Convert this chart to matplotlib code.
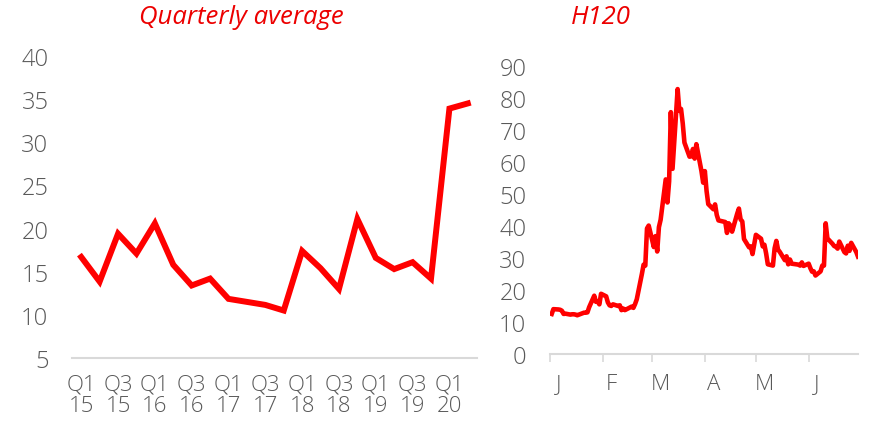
import matplotlib
matplotlib.use("Agg")
import matplotlib.pyplot as plt
import pandas as pd

# quarterly average, Q1 15 .. Q2 20
quarters = ["Q1\n15", "Q2\n15", "Q3\n15", "Q4\n15", "Q1\n16", "Q2\n16", "Q3\n16", "Q4\n16",
            "Q1\n17", "Q2\n17", "Q3\n17", "Q4\n17", "Q1\n18", "Q2\n18", "Q3\n18", "Q4\n18",
            "Q1\n19", "Q2\n19", "Q3\n19", "Q4\n19", "Q1\n20", "Q2\n20"]
quarterly_avg = [16.7, 13.85, 19.4, 17.1, 20.6, 15.8, 13.4, 14.2, 11.85, 11.5, 11.15, 10.5,
                 17.4, 15.4, 13.0, 21.1, 16.6, 15.3, 16.1, 14.2, 33.9, 34.5]

# daily closes, H1 2020
days = ["2020-01-02", "2020-01-03", "2020-01-06", "2020-01-07", "2020-01-08", "2020-01-09",
        "2020-01-10", "2020-01-13", "2020-01-14", "2020-01-15", "2020-01-16", "2020-01-17",
        "2020-01-21", "2020-01-22", "2020-01-23", "2020-01-24", "2020-01-27", "2020-01-28",
        "2020-01-29", "2020-01-30", "2020-01-31", "2020-02-03", "2020-02-04", "2020-02-05",
        "2020-02-06", "2020-02-07", "2020-02-10", "2020-02-11", "2020-02-12", "2020-02-13",
        "2020-02-14", "2020-02-18", "2020-02-19", "2020-02-20", "2020-02-21", "2020-02-24",
        "2020-02-25", "2020-02-26", "2020-02-27", "2020-02-28", "2020-03-02", "2020-03-03",
        "2020-03-04", "2020-03-05", "2020-03-06", "2020-03-09", "2020-03-10", "2020-03-11",
        "2020-03-12", "2020-03-13", "2020-03-16", "2020-03-17", "2020-03-18", "2020-03-19",
        "2020-03-20", "2020-03-23", "2020-03-24", "2020-03-25", "2020-03-26", "2020-03-27",
        "2020-03-30", "2020-03-31", "2020-04-01", "2020-04-02", "2020-04-03", "2020-04-06",
        "2020-04-07", "2020-04-08", "2020-04-09", "2020-04-13", "2020-04-14", "2020-04-15",
        "2020-04-16", "2020-04-17", "2020-04-20", "2020-04-21", "2020-04-22", "2020-04-23",
        "2020-04-24", "2020-04-27", "2020-04-28", "2020-04-29", "2020-04-30", "2020-05-01",
        "2020-05-04", "2020-05-05", "2020-05-06", "2020-05-07", "2020-05-08", "2020-05-11",
        "2020-05-12", "2020-05-13", "2020-05-14", "2020-05-15", "2020-05-18", "2020-05-19",
        "2020-05-20", "2020-05-21", "2020-05-22", "2020-05-26", "2020-05-27", "2020-05-28",
        "2020-05-29", "2020-06-01", "2020-06-02", "2020-06-03", "2020-06-04", "2020-06-05",
        "2020-06-08", "2020-06-09", "2020-06-10", "2020-06-11", "2020-06-12", "2020-06-15",
        "2020-06-16", "2020-06-17", "2020-06-18", "2020-06-19", "2020-06-22", "2020-06-23",
        "2020-06-24", "2020-06-25", "2020-06-26", "2020-06-29", "2020-06-30"]
daily = [12.5, 14.0, 13.9, 13.8, 13.5, 12.5, 12.6, 12.3, 12.4, 12.4, 12.3, 12.1,
         12.9, 12.9, 13.0, 14.6, 18.2, 16.3, 16.4, 15.5, 18.8, 18.0, 16.1, 15.2,
         15.0, 15.5, 15.0, 15.2, 13.7, 14.2, 13.7, 14.8, 14.4, 15.6, 17.1, 25.0,
         27.9, 27.6, 39.2, 40.1, 33.4, 36.8, 32.0, 39.6, 41.9, 54.5, 47.3, 53.9,
         75.5, 57.8, 82.7, 75.9, 76.5, 72.0, 66.0, 61.6, 61.7, 64.0, 61.0, 65.5,
         57.1, 53.5, 57.1, 50.9, 46.8, 45.2, 46.7, 43.4, 41.7, 41.2, 37.8, 40.8,
         40.1, 38.2, 43.8, 45.4, 42.0, 41.4, 35.9, 33.3, 33.6, 31.2, 34.2, 37.2,
         36.0, 33.6, 34.1, 31.4, 28.0, 27.6, 33.0, 35.3, 32.6, 31.9, 29.3, 30.5,
         28.0, 29.5, 28.2, 27.9, 27.6, 28.6, 27.5, 28.2, 26.8, 25.7, 25.8, 24.5,
         25.8, 27.6, 27.6, 40.8, 36.1, 34.4, 33.7, 33.5, 32.9, 35.1, 31.8, 31.4,
         33.8, 32.2, 34.7, 31.8, 30.4]
month_labels = ["J", "F", "M", "A", "M", "J"]

red = "#FF0000"
title_red = "#EC0000"
grey = "#595959"
axis_grey = "#D9D9D9"
plt.rcParams["font.family"] = ["Open Sans", "DejaVu Sans"]
plt.rcParams["font.weight"] = "light"

fig = plt.figure(figsize=(8.74, 4.27), dpi=100)
ax1 = fig.add_axes([0.0824, 0.1593, 0.4634, 0.7073])
ax2 = fig.add_axes([0.6293, 0.1686, 0.3524, 0.6752])

# left: quarterly average
ax1.plot(range(len(quarterly_avg)), quarterly_avg, color=red, lw=4.3, solid_joinstyle="miter")
ax1.set_xlim(-0.5, len(quarterly_avg) - 0.5)
ax1.set_ylim(5, 40)
ax1.set_yticks(range(5, 41, 5))
ax1.set_xticks(range(0, len(quarters), 2))
ax1.set_xticklabels(quarters[::2])

# right: H1 2020 daily
dates = pd.to_datetime(days)
ax2.plot(dates, daily, color=red, lw=3.3)
ax2.set_xlim(pd.Timestamp("2020-01-01"), pd.Timestamp("2020-06-30"))
ax2.set_ylim(0, 90)
ax2.set_yticks(range(0, 91, 10))
month_starts = pd.date_range("2020-01-01", periods=6, freq="MS")
ax2.set_xticks(month_starts)
ax2.set_xticklabels([])
ax2.set_xticks(month_starts + pd.Timedelta(days=5), minor=True)
ax2.set_xticklabels(month_labels, minor=True)
ax2.tick_params(axis="x", which="major", length=6, color=axis_grey, width=1.2)
ax2.tick_params(axis="x", which="minor", length=0, pad=14)

for ax in (ax1, ax2):
    for s in ("top", "right", "left"):
        ax.spines[s].set_visible(False)
    ax.spines["bottom"].set_color(axis_grey)
    ax.spines["bottom"].set_linewidth(1.5)
    ax.tick_params(axis="y", length=0, pad=17, labelsize=17, labelcolor=grey)
    ax.tick_params(axis="x", which="both", labelsize=16, labelcolor=grey)
ax1.tick_params(axis="x", length=0, pad=11)
for lab in ax1.get_xticklabels():
    lab.set_linespacing(1.05)

fig.text(0.276, 0.958, "Quarterly average", color=title_red, fontsize=18.5, style="italic",
         fontweight="normal", ha="center", va="center")
fig.text(0.687, 0.958, "H120", color=title_red, fontsize=18.5, style="italic",
         fontweight="normal", ha="center", va="center")

fig.savefig("out.png", dpi=100)
